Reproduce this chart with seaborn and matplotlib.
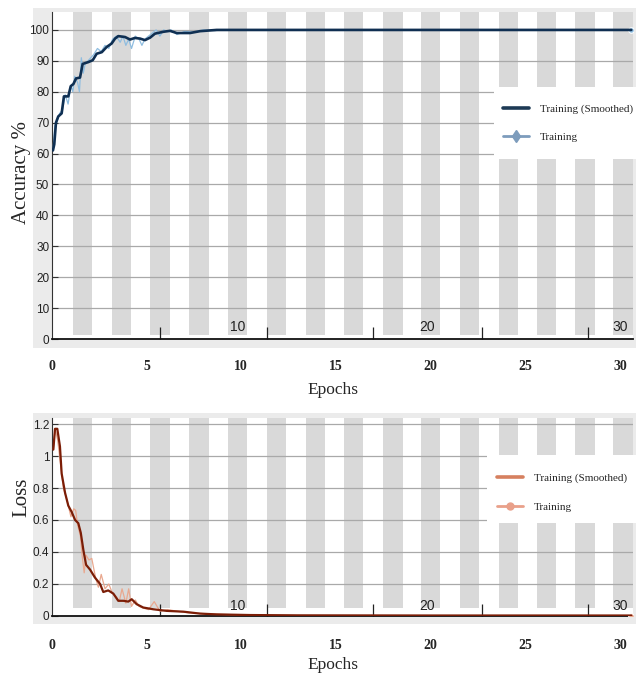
"""
Curvas de treino (acurácia e perda) no estilo do painel de progresso do MATLAB.
"""

import numpy as np
import pandas as pd
import matplotlib
matplotlib.use("Agg")
import matplotlib.pyplot as plt
import seaborn as sns
from matplotlib.lines import Line2D
from matplotlib.patches import Rectangle

# ---------------------------------------------------------------------------
# Dados
# ---------------------------------------------------------------------------
acc_epoch_s = [0.05, 0.12, 0.21, 0.33, 0.51, 0.63, 0.86, 0.99, 1.13, 1.27, 1.48, 1.62,
               1.92, 2.15, 2.36, 2.63, 2.89, 3.15, 3.33, 3.5, 3.86, 4.12, 4.38, 4.65,
               4.91, 5.18, 5.44, 5.88, 6.23, 6.59, 7.29, 7.82, 8.7, 9.56, 11.0, 15.0,
               20.0, 25.0, 30.6]
acc_smooth = [61, 63, 70, 72, 73, 78.5, 78.5, 81.8, 82.5, 84.3, 84.6, 89, 89.6, 90.2,
              92.3, 92.8, 94.5, 95.6, 97.2, 98, 97.7, 96.9, 97.4, 97.2, 96.7, 97.5,
              98.8, 99.4, 99.7, 99.0, 99.0, 99.6, 100, 100, 100, 100, 100, 100, 100]

acc_epoch_r = [0.05, 0.15, 0.25, 0.4, 0.55, 0.7, 0.85, 1.0, 1.1, 1.2, 1.35, 1.45, 1.55,
               1.65, 1.75, 1.9, 2.05, 2.2, 2.4, 2.6, 2.8, 3.0, 3.2, 3.4, 3.6, 3.75, 3.9,
               4.05, 4.2, 4.4, 4.6, 4.75, 4.9, 5.1, 5.3, 5.5, 5.7, 5.9, 6.1, 6.3, 6.6,
               7.0, 7.5, 8.0, 8.6, 9.2, 10.0, 11.0, 30.6]
acc_raw = [61, 69, 70, 73, 74, 79, 76, 82, 80, 85, 83, 80, 91, 86, 89, 90, 91, 92, 94,
           93, 95, 94, 97, 98, 96, 98, 95, 97, 94, 98, 97, 95, 97, 98, 99, 100, 98, 100,
           99.5, 100, 98.5, 99.5, 99.3, 100, 99.8, 100, 100, 100, 100]

loss_epoch_s = [0.07, 0.16, 0.28, 0.42, 0.51, 0.69, 0.86, 1.04, 1.22, 1.39, 1.52, 1.66,
                1.8, 2.01, 2.27, 2.54, 2.71, 2.97, 3.24, 3.5, 3.77, 4.03, 4.21, 4.47,
                4.82, 5.35, 6.06, 6.94, 7.82, 8.7, 10.46, 13.0, 20.0, 30.6]
loss_smooth = [1.04, 1.17, 1.17, 1.06, 0.89, 0.77, 0.69, 0.65, 0.60, 0.58, 0.52, 0.41,
               0.32, 0.29, 0.24, 0.20, 0.15, 0.16, 0.14, 0.095, 0.095, 0.09, 0.105,
               0.074, 0.053, 0.042, 0.032, 0.027, 0.015, 0.01, 0.006, 0.004, 0.003, 0.003]

loss_epoch_r = [0.07, 0.16, 0.3, 0.45, 0.6, 0.8, 1.0, 1.15, 1.25, 1.35, 1.5, 1.6, 1.7,
                1.8, 1.95, 2.1, 2.3, 2.45, 2.6, 2.8, 3.0, 3.2, 3.4, 3.55, 3.7, 3.9, 4.05,
                4.2, 4.4, 4.6, 4.8, 5.1, 5.4, 5.7, 6.1, 6.6, 7.2, 8.0, 9.0, 10.5, 13.0, 30.6]
loss_raw = [1.04, 1.17, 1.1, 0.95, 0.80, 0.72, 0.62, 0.67, 0.66, 0.57, 0.50, 0.37, 0.27,
            0.38, 0.35, 0.36, 0.24, 0.18, 0.26, 0.17, 0.20, 0.14, 0.12, 0.09, 0.17, 0.08,
            0.17, 0.06, 0.10, 0.06, 0.05, 0.04, 0.09, 0.03, 0.04, 0.03, 0.02, 0.015, 0.01,
            0.005, 0.003, 0.003]

# faixas cinzas (uma por época alternada) e marcações internas do painel
band_start = [1.1, 3.15, 5.2, 7.25, 9.3, 11.35, 13.4, 15.4, 17.5, 19.5, 21.55, 23.6,
              25.6, 27.65, 29.65]
band_width = 1.02
inner_ticks = [5.71, 11.36, 16.96, 22.72, 28.32]
inner_label_pos = [9.8, 19.8, 30.0]
inner_labels = ["10", "20", "30"]
epoch_ticks = [0, 5, 10, 15, 20, 25, 30]
legend_labels = ["Training (Smoothed)", "Training"]

sns.set_theme(style="white")
plt.rcParams["font.family"] = ["Liberation Serif", "DejaVu Serif"]
NARROW = ["Liberation Sans Narrow", "Liberation Sans", "DejaVu Sans"]

W, H = 637, 677
fig = plt.figure(figsize=(W / 100, H / 100), dpi=100, facecolor="white")


def px_rect(x0, y0, x1, y1):
    return [x0 / W, 1 - y1 / H, (x1 - x0) / W, (y1 - y0) / H]


# molduras cinza claro
for (x0, y0, x1, y1) in [(33, 8, 636, 348), (33, 413, 636, 624)]:
    r = px_rect(x0, y0, x1, y1)
    fig.patches.append(Rectangle((r[0], r[1]), r[2], r[3], transform=fig.transFigure,
                                 facecolor="#ebebeb", edgecolor="none", zorder=-1))

ax1 = fig.add_axes(px_rect(52, 12, 633, 339))
ax2 = fig.add_axes(px_rect(52, 418, 633, 616))


def style_axes(ax, ylim, yticks, yticklabels, band_ymin, xpad):
    ax.set_facecolor("white")
    ax.set_xlim(0, 30.69)
    ax.set_ylim(*ylim)
    for b in band_start:
        ax.axvspan(b, b + band_width, ymin=band_ymin, ymax=1, color="#d9d9d9", lw=0, zorder=0.2)
    ax.set_yticks(yticks)
    ax.set_yticklabels(yticklabels, family=NARROW, fontsize=8.5, color="#222222")
    ax.yaxis.grid(True, color="#a9a9a9", lw=0.9, zorder=0.5)
    ax.set_axisbelow(True)
    ax.tick_params(axis="y", direction="in", length=4, width=0.8, color="#333333", pad=2, left=True)
    ax.set_xticks(epoch_ticks)
    ax.set_xticklabels([str(t) for t in epoch_ticks], fontweight="bold", fontsize=10)
    ax.tick_params(axis="x", which="major", length=0, pad=xpad, bottom=True)
    ax.set_xticks(inner_ticks, minor=True)
    ax.tick_params(axis="x", which="minor", direction="in", length=9, width=0.9,
                   color="#222222", bottom=True)
    for s in ["top", "right"]:
        ax.spines[s].set_visible(False)
    ax.spines["left"].set_color("#333333")
    ax.spines["left"].set_linewidth(0.8)
    ax.spines["bottom"].set_color("#111111")
    ax.spines["bottom"].set_linewidth(1.3)


def add_legend(ax, handles, box, anchor, spacing):
    # caixa branca que interrompe as faixas, e legenda sem moldura por cima
    r = px_rect(*box)
    ax.add_patch(Rectangle((r[0], r[1]), r[2], r[3], transform=fig.transFigure,
                           facecolor="white", edgecolor="none", zorder=4.5, clip_on=False))
    ax.legend(handles, legend_labels, loc="upper left",
              bbox_to_anchor=(anchor[0] / W, 1 - anchor[1] / H), bbox_transform=fig.transFigure,
              borderaxespad=0, borderpad=0, fontsize=8, frameon=False,
              labelspacing=spacing, handlelength=2.3, handletextpad=1.0)


# ---------------------------------------------------------------------------
# Acurácia
# ---------------------------------------------------------------------------
style_axes(ax1, (0, 105.8), list(range(0, 101, 10)), [str(v) for v in range(0, 101, 10)], 0.012, 15)
df_acc_r = pd.DataFrame({"epoch": acc_epoch_r, "acc": acc_raw})
df_acc_s = pd.DataFrame({"epoch": acc_epoch_s, "acc": acc_smooth})
sns.lineplot(data=df_acc_r, x="epoch", y="acc", ax=ax1, color="#8fbde0", lw=0.9,
             marker="o", markersize=4, markevery=[len(acc_raw) - 1], zorder=3)
sns.lineplot(data=df_acc_s, x="epoch", y="acc", ax=ax1, color="#0f2f52", lw=1.9, zorder=4)
ax1.set_xlabel("")
ax1.set_ylabel("")
for x, t in zip(inner_label_pos, inner_labels):
    ax1.text(x, 1.5, t, ha="center", va="bottom", family=NARROW, fontsize=10, color="#222222")

h1 = [Line2D([], [], color="#1d3a55", lw=2.6),
      Line2D([], [], color="#7d9cbc", lw=2, marker="d", markersize=6)]
add_legend(ax1, h1, (494, 87, 637, 159), (503, 104), 1.65)

# ---------------------------------------------------------------------------
# Perda
# ---------------------------------------------------------------------------
loss_ticks = [0, 0.2, 0.4, 0.6, 0.8, 1.0, 1.2]
style_axes(ax2, (0, 1.2375), loss_ticks, ["0", "0.2", "0.4", "0.6", "0.8", "1", "1.2"], 0.04, 16.5)
df_loss_r = pd.DataFrame({"epoch": loss_epoch_r, "loss": loss_raw})
df_loss_s = pd.DataFrame({"epoch": loss_epoch_s, "loss": loss_smooth})
sns.lineplot(data=df_loss_r, x="epoch", y="loss", ax=ax2, color="#e9a88f", lw=0.9,
             marker="o", markersize=4, markevery=[len(loss_raw) - 1], zorder=3)
sns.lineplot(data=df_loss_s, x="epoch", y="loss", ax=ax2, color="#7b1d06", lw=1.6, zorder=4)
ax2.set_xlabel("")
ax2.set_ylabel("")
for x, t in zip(inner_label_pos, inner_labels):
    ax2.text(x, 0.02, t, ha="center", va="bottom", family=NARROW, fontsize=10, color="#222222")

h2 = [Line2D([], [], color="#d6805f", lw=2.6),
      Line2D([], [], color="#e9a08a", lw=2, marker="o", markersize=5)]
add_legend(ax2, h2, (487, 455, 637, 523), (497, 473), 1.75)

# rótulos dos eixos
fig.text(22 / W, 1 - 172 / H, "Accuracy %", rotation=90, ha="center", va="center", fontsize=15)
fig.text(22 / W, 1 - 497 / H, "Loss", rotation=90, ha="center", va="center", fontsize=15)
fig.text(333 / W, 1 - 390 / H, "Epochs", ha="center", va="center", fontsize=12.5)
fig.text(333 / W, 1 - 665 / H, "Epochs", ha="center", va="center", fontsize=12.5)

fig.savefig("out.png", dpi=100, facecolor="white")
